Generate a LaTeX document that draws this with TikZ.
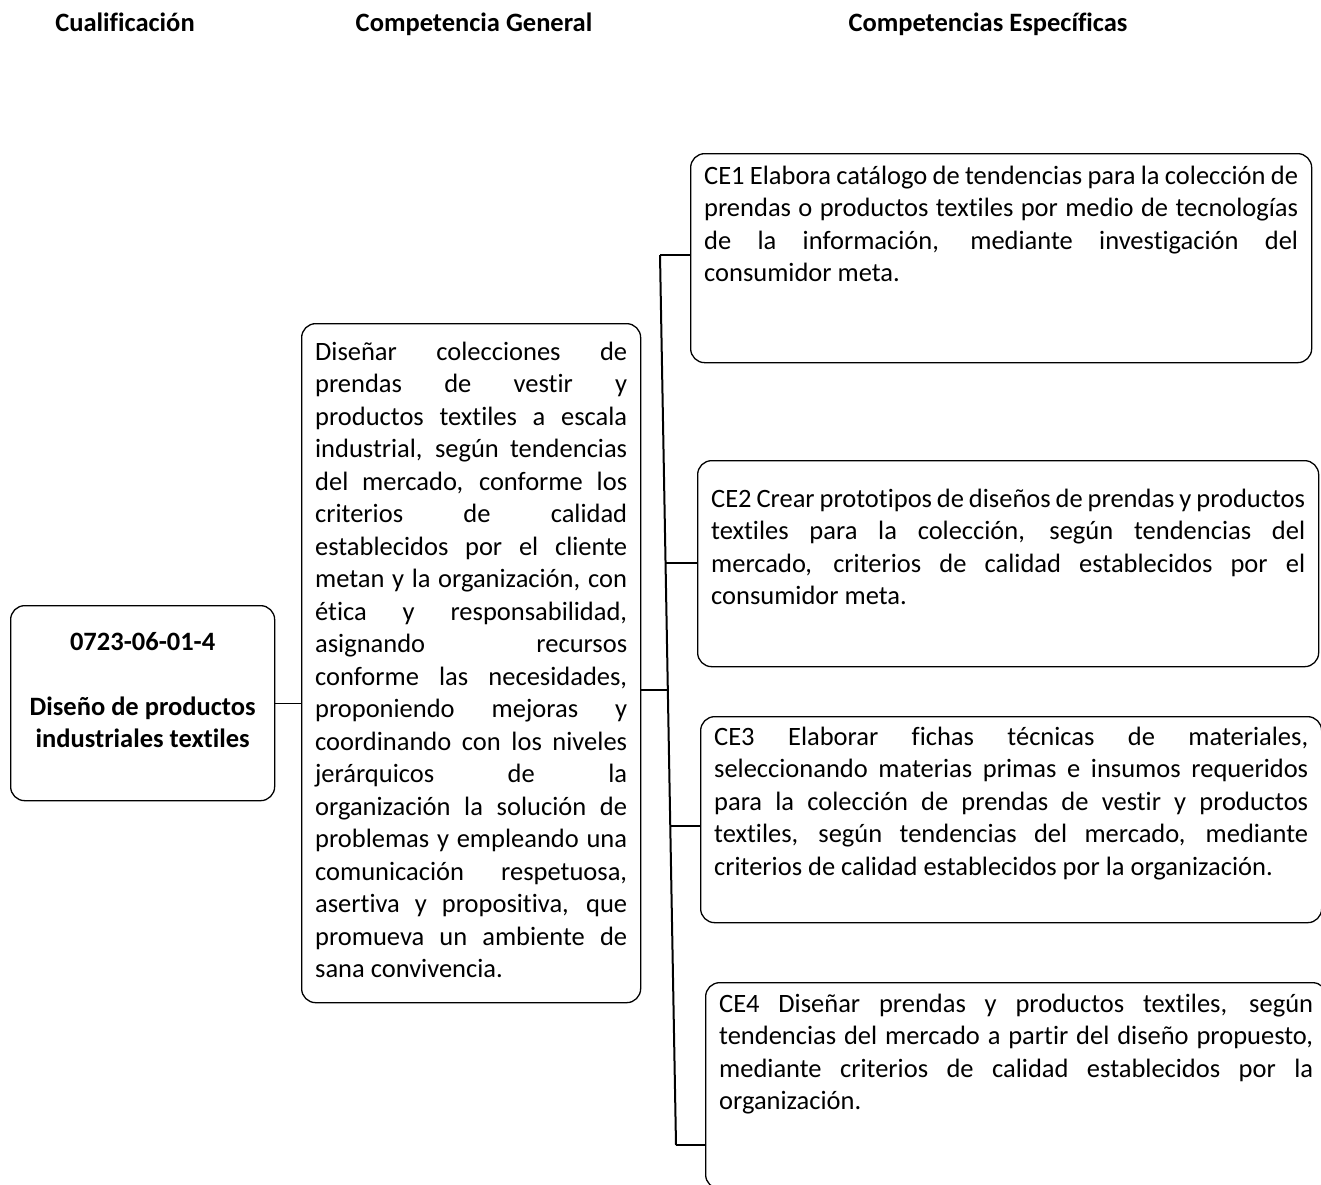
\documentclass[tikz,border=0pt]{standalone}
\usepackage{fontspec}
\setmainfont{Carlito}[Ligatures={NoCommon}]
\usetikzlibrary{calc,positioning}

\newcommand{\cuerpo}{\fontsize{13.25pt}{16.25pt}\selectfont}
% one justified line
\newcommand{\jl}[1]{\makebox[\hsize][s]{\strut#1}\par}

\tikzset{
  caja/.style={draw, rounded corners=7pt, anchor=north west, inner xsep=6.75pt,
    inner ysep=0pt, line width=0.65pt, font=\cuerpo},
  titulo/.style={font=\cuerpo\bfseries, anchor=base},
  rama/.style={line width=0.65pt},
  tronco/.style={line width=1pt}
}

\begin{document}
\begin{tikzpicture}[x=0.5pt,y=-0.5pt]

    \useasboundingbox (0,0) rectangle (1321,1184);
    \clip (0,0) rectangle (1321,1184);

    % Headers
    \node[titulo] (hcual) at (125,31)  {Cualificación};
    \node[titulo] (hgen)  at (474,31)  {Competencia General};
    \node[titulo] (hesp)  at (988,31)  {Competencias Específicas};

    % Define nodes
    \node[caja] (cual) at (10,605) {\parbox[t][97.5pt][t]{118.5pt}{\vspace*{11pt}\centering\bfseries
      \strut 0723-06-01-4\\ \strut\\ \strut Diseño de productos\\ \strut industriales textiles}};

    \node[caja] (gen) at (301,323) {\parbox[t][339.5pt][t]{156pt}{\vspace*{7pt}%
      \jl{Diseñar colecciones de}
      \jl{prendas de vestir y}
      \jl{productos textiles a escala}
      \jl{industrial, según tendencias}
      \jl{del mercado, conforme los}
      \jl{criterios de calidad}
      \jl{establecidos por el cliente}
      \jl{metan y la organización, con}
      \jl{ética y responsabilidad,}
      \jl{asignando recursos}
      \jl{conforme las necesidades,}
      \jl{proponiendo mejoras y}
      \jl{coordinando con los niveles}
      \jl{jerárquicos de la}
      \jl{organización la solución de}
      \jl{problemas y empleando una}
      \jl{comunicación respetuosa,}
      \jl{asertiva y propositiva, que}
      \jl{promueva un ambiente de}
      \strut sana convivencia.}};

    \node[caja] (ce1) at (690,153) {\parbox[t][104.5pt][t]{297pt}{\vspace*{4pt}%
      \jl{CE1 Elabora catálogo de tendencias para la colección de}
      \jl{prendas o productos textiles por medio de tecnologías}
      \jl{de la información, mediante investigación del}
      \strut consumidor meta.}};

    \node[caja] (ce2) at (697,460) {\parbox[t][103pt][t]{297pt}{\vspace*{12pt}%
      \jl{CE2 Crear prototipos de diseños de prendas y productos}
      \jl{textiles para la colección, según tendencias del}
      \jl{mercado, criterios de calidad establecidos por el}
      \strut consumidor meta.}};

    \node[caja] (ce3) at (700,716) {\parbox[t][103pt][t]{297pt}{\vspace*{3pt}%
      \jl{CE3 Elaborar fichas técnicas de materiales,}
      \jl{seleccionando materias primas e insumos requeridos}
      \jl{para la colección de prendas de vestir y productos}
      \jl{textiles, según tendencias del mercado, mediante}
      \strut criterios de calidad establecidos por la organización.}};

    \node[caja] (ce4) at (705,982) {\parbox[t][103pt][t]{297pt}{\vspace*{3.5pt}%
      \jl{CE4 Diseñar prendas y productos textiles, según}
      \jl{tendencias del mercado a partir del diseño propuesto,}
      \jl{mediante criterios de calidad establecidos por la}
      \strut organización.}};

    % Trunk points
    \coordinate (tsup) at (660,255);
    \coordinate (tinf) at (676,1145);
    \coordinate (tgen) at ($(tsup)!0.4888!(tinf)$);
    \coordinate (t2)   at ($(tsup)!0.3461!(tinf)$);
    \coordinate (t3)   at ($(tsup)!0.6416!(tinf)$);

    % Connect the nodes
    \draw[rama] (cual.east) -- (cual.east -| gen.west);
    \draw[rama] (gen.east |- tgen) -- (tgen);
    \draw[tronco] (tsup) -- (tinf);
    \draw[rama] (tsup) -- (tsup -| ce1.west);
    \draw[rama] (t2) -- (t2 -| ce2.west);
    \draw[rama] (t3) -- (t3 -| ce3.west);
    \draw[rama] (tinf) -- (tinf -| ce4.west);

\end{tikzpicture}
\end{document}
